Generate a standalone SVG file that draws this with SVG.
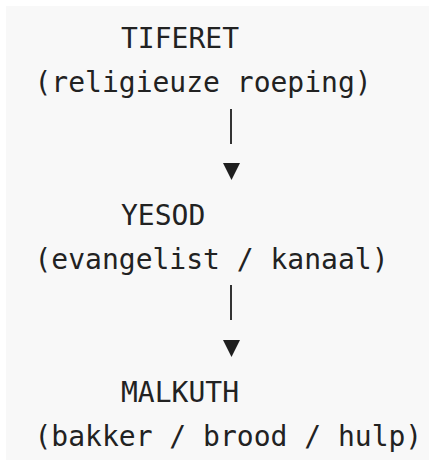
<svg xmlns="http://www.w3.org/2000/svg" width="429" height="470" viewBox="0 0 429 470">
<style>
.t{font-family:"DejaVu Sans Mono","Liberation Mono",monospace;font-size:28px;fill:#222222}
</style>
<rect x="0" y="0" width="429" height="470" fill="#ffffff"/>
<rect x="6" y="6" width="423" height="454" fill="#f8f8f8"/>
<g id="tiferet">
<text class="t" x="121" y="48">TIFERET</text>
<text class="t" x="34.5" y="92">(religieuze roeping)</text>
</g>
<g id="yesod">
<text class="t" x="121" y="225">YESOD</text>
<text class="t" x="34.5" y="269">(evangelist / kanaal)</text>
</g>
<g id="malkuth">
<text class="t" x="121" y="402">MALKUTH</text>
<text class="t" x="34.5" y="446">(bakker / brood / hulp)</text>
</g>
<g id="connectors" fill="#1f1f1f" stroke="none">
<rect x="230" y="109" width="2" height="35" fill="#333"/>
<polygon points="223,163 240,163 231.5,180"/>
<rect x="230" y="285" width="2" height="35" fill="#333"/>
<polygon points="223,340 240,340 231.5,357"/>
</g>
</svg>
